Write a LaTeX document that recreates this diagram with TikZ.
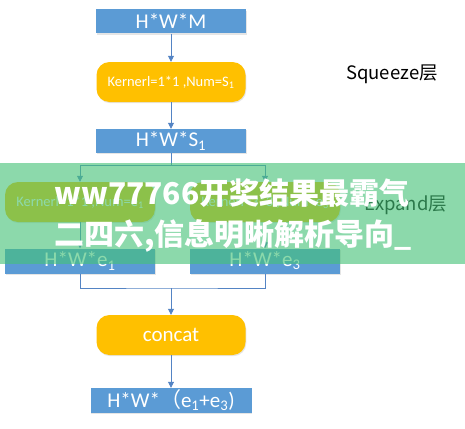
\documentclass[tikz,border=0pt]{standalone}
\usepackage{fontspec}
\setmainfont{Carlito}
\newfontfamily\cjk{Noto Sans CJK SC}
\usetikzlibrary{arrows.meta,shadows}
\definecolor{boxblue}{RGB}{91,155,213}
\definecolor{boxorange}{RGB}{255,192,0}
\definecolor{linkblue}{RGB}{84,132,196}
\definecolor{bannergreen}{RGB}{70,195,120}
\tikzset{
  shade box/.style={drop shadow={shadow xshift=0.8pt, shadow yshift=-1.2pt, opacity=0.2}},
  bluebox/.style={fill=boxblue, draw=none, minimum width=#1, minimum height=24pt,
    text=white, font=\fontsize{21}{21}\selectfont, inner sep=0pt, shade box},
  orangebox/.style={fill=boxorange, draw=none, rounded corners=13pt, minimum width=#1,
    minimum height=40pt, text=white, inner sep=0pt, shade box},
  kfont/.style={font=\fontsize{14.5}{15}\selectfont},
  link/.style={draw=linkblue, line width=0.8pt},
  arr/.style={link, -{Triangle[width=6pt,length=6pt]}},
  note/.style={font=\cjk\fontsize{18.5}{18.5}\selectfont, text=black, inner sep=0pt},
  bannertext/.style={font=\cjk\bfseries\fontsize{30}{30}\selectfont, text=white, inner sep=0pt, anchor=base west},
}
\begin{document}
\begin{tikzpicture}[x=1pt,y=-1pt]
\useasboundingbox (0,0) rectangle (465,428);
\fill[white] (0,0) rectangle (465,428);

\node[bluebox=150pt] (hwm) at (171,21.5) {H*W*M};
\node[orangebox=149pt, kfont] (k1) at (171,82) {Kernerl=1*1 ,Num=S\textsubscript{1}};
\node[bluebox=150pt] (hws) at (171,141) {H*W*S\textsubscript{1}};
\node[orangebox=150pt, kfont] (k2) at (80,202) {Kernerl=1*1 ,Num=e\textsubscript{1}};
\node[orangebox=150pt, kfont] (k3) at (265,202) {Kernerl=3*3 ,Num=e\textsubscript{3}};
\node[bluebox=150pt, minimum height=25pt] (e1) at (80,261) {H*W*e\textsubscript{1}};
\node[bluebox=150pt, minimum height=25pt] (e3) at (265,261) {H*W*e\textsubscript{3}};
\node[orangebox=149pt, font=\fontsize{21}{21}\selectfont] (cc) at (171,335) {concat};
\node[bluebox=161pt, minimum height=25pt] (out) at (171,400.5) {H*W*{\cjk （}e\textsubscript{1}+e\textsubscript{3})};

\node[note] (sq) at (392,74) {Squeeze层};
\node[note] (ex) at (406,205) {Expand层};

\coordinate (split) at (171,165);
\coordinate (merge) at (171,288);
\draw[arr] (hwm) -- (k1);
\draw[arr] (k1) -- (hws);
\draw[link] (hws.south) -- (split);
\draw[arr] (split) -| (k2.north);
\draw[arr] (split) -| (k3.north);
\draw[arr] (k2) -- (e1);
\draw[arr] (k3) -- (e3);
\draw[link] (e1.south) |- (merge) -| (e3.south);
\draw[arr] (merge) -- (cc);
\draw[arr] (cc) -- (out);

\fill[bannergreen, opacity=0.62] (0,163) rectangle (465,264);
\node[bannertext] (b1) at (54,204) {ww77766开奖结果最霸气};
\node[bannertext] (b2) at (54,245) {二四六,信息明晰解析导向\_};
\end{tikzpicture}
\end{document}
